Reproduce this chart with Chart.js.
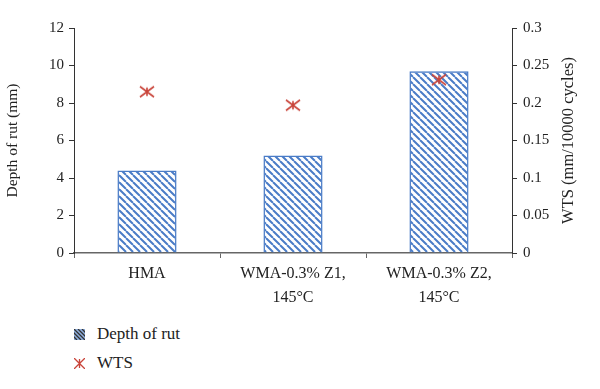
<!DOCTYPE html>
<html>
<head>
<meta charset="utf-8">
<script src="https://cdn.jsdelivr.net/npm/chart.js@4"></script>
<style>
  body { margin: 0; background: #fff; }
  #wrap { position: relative; width: 600px; height: 389px; font-family: "Liberation Serif", serif; color: #222; }
  #chart { position: absolute; left: 0; top: 0; }
  .leg { position: absolute; left: 74px; font-size: 17px; display: flex; align-items: center; }
  .leg canvas { margin-right: 12px; }
</style>
</head>
<body>
<div id="wrap">
  <canvas id="chart" width="600" height="314"></canvas>
  <div class="leg" style="top:324px"><canvas id="sw1" width="11" height="11"></canvas>Depth of rut</div>
  <div class="leg" style="top:353px"><canvas id="sw2" width="11" height="11"></canvas>WTS</div>
</div>
<script>
// data
const categories = [['HMA'], ['WMA-0.3% Z1,', '145°C'], ['WMA-0.3% Z2,', '145°C']];
const rutDepth = [4.4, 5.2, 9.7];
const wts = [0.215, 0.197, 0.231];

const blue = '#4a7cc7';
const red = '#c9443a';
const serif = 'Liberation Serif';

// diagonal hatch for the bars
function hatch(size) {
    const c = document.createElement('canvas');
    c.width = size; c.height = size;
    const g = c.getContext('2d');
    g.strokeStyle = blue;
    g.lineWidth = 2;
    g.beginPath();
    for (let k = -1; k <= 1; k++) {
        g.moveTo(k * size, 0);
        g.lineTo(k * size + size, size);
    }
    g.stroke();
    return c;
}

// asterisk marker: X plus vertical stroke
function star(s, lw) {
    const c = document.createElement('canvas');
    c.width = s; c.height = s;
    const g = c.getContext('2d');
    g.strokeStyle = red;
    g.lineWidth = lw;
    const m = s / 2, r = s / 2 - 1;
    g.beginPath();
    g.moveTo(m - r, m - r * 0.75); g.lineTo(m + r, m + r * 0.75);
    g.moveTo(m + r, m - r * 0.75); g.lineTo(m - r, m + r * 0.75);
    g.moveTo(m, m - r * 0.6); g.lineTo(m, m + r * 0.6);
    g.stroke();
    return c;
}

// right axis title reads bottom-to-top like the left one
const rightTitle = {
    id: 'rightTitle',
    afterDraw(chart) {
        const a = chart.chartArea;
        const g = chart.ctx;
        g.save();
        g.translate(569, (a.top + a.bottom) / 2);
        g.rotate(-Math.PI / 2);
        g.font = '16.5px "' + serif + '"';
        g.fillStyle = '#222';
        g.textAlign = 'center';
        g.textBaseline = 'middle';
        g.fillText('WTS (mm/10000 cycles)', 0, 0);
        g.restore();
    }
};

const ctx = document.getElementById('chart').getContext('2d');
const pattern = ctx.createPattern(hatch(7), 'repeat');

new Chart(ctx, {
    data: {
        labels: categories,
        datasets: [
            {
                type: 'line',
                label: 'WTS',
                data: wts,
                yAxisID: 'y1',
                showLine: false,
                pointStyle: star(16, 1.6),
                order: 0
            },
            {
                type: 'bar',
                label: 'Depth of rut',
                data: rutDepth,
                yAxisID: 'y',
                backgroundColor: pattern,
                borderColor: blue,
                borderWidth: 1.5,
                categoryPercentage: 1,
                barPercentage: 0.405,
                order: 1
            }
        ]
    },
    options: {
        responsive: false,
        animation: false,
        layout: { padding: { top: 28, right: 0, left: 0, bottom: 0 } },
        plugins: { legend: { display: false }, tooltip: { enabled: false } },
        scales: {
            x: {
                grid: { offset: true, drawOnChartArea: false, color: '#666', tickLength: 5 },
                border: { color: '#666', width: 1.5 },
                ticks: { color: '#222', font: { family: serif, size: 16, lineHeight: 1.5 }, padding: 4 }
            },
            y: {
                position: 'left',
                min: 0, max: 12,
                ticks: { stepSize: 2, color: '#222', font: { family: serif, size: 15 }, padding: 5 },
                grid: { drawOnChartArea: false, color: '#333', tickLength: 5 },
                border: { color: '#333', width: 1 },
                title: { display: true, text: 'Depth of rut (mm)', color: '#222', font: { family: serif, size: 15.5 }, padding: 4 },
                afterFit: function(s) { s.width = 74; }
            },
            y1: {
                position: 'right',
                min: 0, max: 0.3,
                ticks: {
                    stepSize: 0.05, color: '#222', font: { family: serif, size: 15 }, padding: 6,
                    callback: v => String(+v.toFixed(2))
                },
                grid: { drawOnChartArea: false, color: '#333', tickLength: 5 },
                border: { color: '#333', width: 1 },
                afterFit: function(s) { s.width = 88; }
            }
        }
    },
    plugins: [rightTitle]
});

// legend swatches
const s1 = document.getElementById('sw1').getContext('2d');
s1.fillStyle = '#8fb0e0';
s1.fillRect(0, 0, 11, 11);
s1.strokeStyle = '#333';
s1.lineWidth = 1.3;
s1.beginPath();
for (let k = -8; k <= 8; k += 4) { s1.moveTo(k, 0); s1.lineTo(k + 11, 11); }
s1.stroke();

const s2 = document.getElementById('sw2').getContext('2d');
s2.strokeStyle = red;
s2.lineWidth = 1.3;
s2.beginPath();
s2.moveTo(0, 0); s2.lineTo(11, 11);
s2.moveTo(11, 0); s2.lineTo(0, 11);
s2.moveTo(5.5, 1); s2.lineTo(5.5, 10);
s2.stroke();
</script>
</body>
</html>
